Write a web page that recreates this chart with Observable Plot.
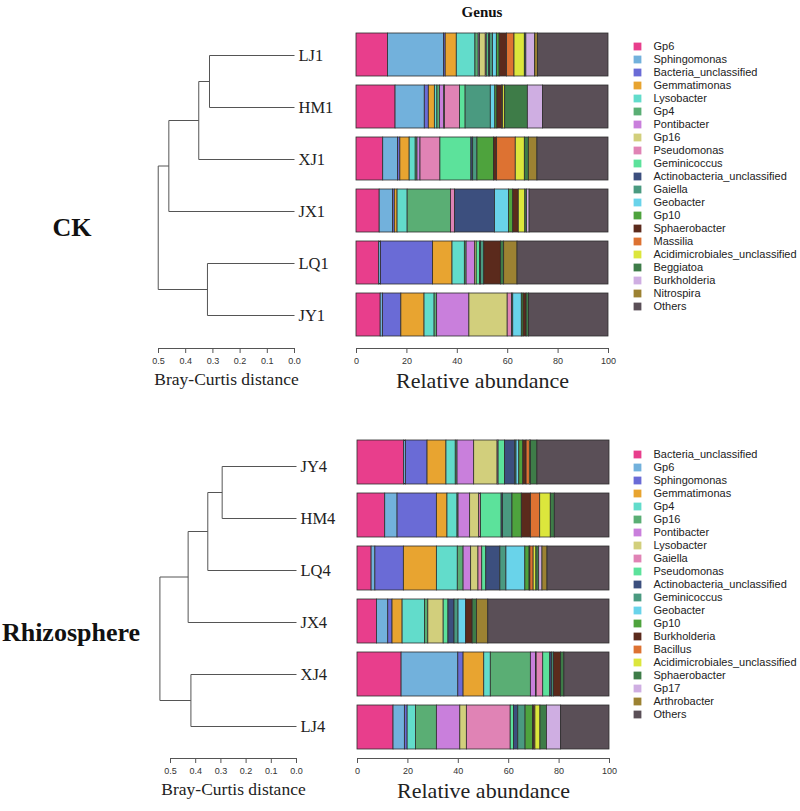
<!DOCTYPE html>
<html><head><meta charset="utf-8">
<script src="https://cdn.jsdelivr.net/npm/d3@7"></script>
<script src="https://cdn.jsdelivr.net/npm/@observablehq/plot@0.6"></script>
<style>
body{margin:0;background:#fff}
#chart{position:relative;width:800px;height:811px;overflow:hidden;background:#fff}
#chart svg{position:absolute;left:0;top:0}
.t{position:absolute;font-family:"Liberation Serif","Times New Roman",serif;font-weight:bold;color:#111;transform:translate(-50%,-50%);white-space:nowrap;line-height:1}
</style></head><body><div id="chart"></div>
<script>
// ---------- data ----------
const palette = ["#E83E8C","#72B1DC","#6A6BD6","#E8A430","#62DCCB","#5AAE74","#C97FDC","#D2CF7C","#E083B5","#5CE29B","#3C4F7E","#4A9A80","#69D3EA","#4EA33D","#5B2A1C","#DD7232","#DCE63C","#3E7C48","#CFAEE2","#9C8232","#5A4F57"];

const taxaCK = ["Gp6","Sphingomonas","Bacteria_unclassified","Gemmatimonas","Lysobacter","Gp4","Pontibacter","Gp16","Pseudomonas","Geminicoccus","Actinobacteria_unclassified","Gaiella","Geobacter","Gp10","Sphaerobacter","Massilia","Acidimicrobiales_unclassified","Beggiatoa","Burkholderia","Nitrospira","Others"];
const samplesCK = ["LJ1","HM1","XJ1","JX1","LQ1","JY1"];
const LJ1 = [12.5,22.2,0.7,4.4,7.4,1.3,0.5,2.3,0.4,0.8,0.5,1.2,1.5,1.1,2.9,3.0,4.1,0.6,3.5,1.1,28.0];
const HM1 = [15.5,11.6,1.6,2.4,1.0,1.0,1.7,0.3,6.0,2.2,0,10.0,1.8,0.8,1.8,0.5,0.8,9.0,6.0,0,26.0];
const XJ1 = [10.6,5.9,0.9,3.7,2.4,0.7,1.2,0,7.9,12.3,0.7,1.7,0,6.6,1.2,7.4,3.6,1.6,0,3.4,28.2];
const JX1 = [9.2,5.3,0.7,1.1,4.0,17.2,0,0,1.6,0,15.9,0,5.5,1.7,2.2,0,2.6,0.7,1.0,0,31.3];
const LQ1 = [9.0,0.7,20.7,7.7,4.9,0.7,3.3,0.7,0,1.3,0.4,1.3,0,0,6.6,0,0,1.3,0,5.3,36.1];
const JY1 = [9.6,0.9,7.3,9.2,4.0,1.0,12.8,15.2,1.7,0,0,0.5,3.4,0.7,1.2,0,0,1.0,0,0,31.5];

const taxaRh = ["Bacteria_unclassified","Gp6","Sphingomonas","Gemmatimonas","Gp4","Gp16","Pontibacter","Lysobacter","Gaiella","Pseudomonas","Actinobacteria_unclassified","Geminicoccus","Geobacter","Gp10","Burkholderia","Bacillus","Acidimicrobiales_unclassified","Sphaerobacter","Gp17","Arthrobacter","Others"];
const samplesRh = ["JY4","HM4","LQ4","JX4","XJ4","LJ4"];
const JY4 = [18.5,0.7,8.6,7.5,3.7,0.7,6.6,9.3,0.4,2.5,4.1,0.5,1.1,1.6,1.3,1.3,0.4,2.6,0,0,28.6];
const HM4 = [11.0,4.9,15.6,4.2,4.0,0.4,4.6,3.6,0.7,8.2,0.5,3.8,0,3.7,3.6,3.7,4.2,1.6,0,0,21.7];
const LQ4 = [5.6,1.5,11.3,13.1,8.3,2.3,3.0,2.9,1.5,1.6,5.6,2.4,7.5,1.7,0.3,1.3,1.1,1.1,1.3,2.0,24.6];
const JX4 = [7.7,4.5,1.7,4.0,8.9,1.3,0,6.1,0,1.9,2.4,1.6,3.0,0,2.6,0,0,1.7,0,4.5,48.1];
const XJ4 = [17.5,22.5,2.1,8.2,2.6,15.9,2.0,0.3,2.6,2.8,0.7,0.7,0,0,2.9,0,0,1.3,0,0,17.9];
const LJ4 = [14.3,4.5,1.1,0,3.3,8.3,9.3,2.6,17.4,1.3,1.7,2.9,0,3.0,0.5,0.4,2.0,2.6,5.6,0,19.2];

// dendrograms (merge steps: left node, right node, Bray-Curtis height; "mK" = K-th merge)
const ckMergeA = ["LJ1","m1","m2","LQ1","m3"];
const ckMergeB = ["HM1","XJ1","JX1","JY1","m4"];
const ckMergeH = [0.3125,0.352,0.462,0.32,0.501];
const rhMergeA = ["JY4","m1","m2","XJ4","m3"];
const rhMergeB = ["HM4","LQ4","JX4","LJ4","m4"];
const rhMergeH = [0.295,0.352,0.430,0.419,0.542];

const distTicks = [0.5,0.4,0.3,0.2,0.1,0.0];
const abundTicks = [0,20,40,60,80,100];

// ---------- helpers ----------
const W = 800, H = 811;
const SERIF = "Liberation Serif, Times New Roman, serif";
const SANS = "Liberation Sans, Arial, Helvetica, sans-serif";
const baseStyle = {background:"transparent", overflow:"visible"};
const chart = document.getElementById("chart");

function barPlot(samples, taxa, rows, yRange, xRange) {
  const data = [];
  samples.forEach((s,i) => rows[i].forEach((v,j) => { if (v > 0) data.push({sample:s, taxon:taxa[j], value:v}); }));
  return Plot.plot({
    width:W, height:H, margin:0, style:baseStyle,
    x:{domain:[abundTicks[0], abundTicks[abundTicks.length-1]], range:xRange, axis:null},
    y:{type:"band", domain:samples, range:yRange, paddingInner:0.167, paddingOuter:0.0835, axis:null},
    color:{domain:taxa, range:palette},
    marks:[
      Plot.barX(data, Plot.stackX({x:"value", y:"sample", fill:"taxon", z:"taxon", order:taxa, stroke:"#2e2e2e", strokeWidth:0.8}))
    ]
  });
}

function axisPlot(ticks, xRange, lineY, fmt, title, titleSize, titleDy) {
  const d0 = ticks[0], d1 = ticks[ticks.length-1];
  return Plot.plot({
    width:W, height:H, marginTop:0, marginLeft:0, marginRight:0, marginBottom:H-lineY, style:baseStyle,
    x:{domain:[d0,d1], range:xRange},
    y:{domain:[0,1], range:[lineY, lineY-10], axis:null},
    marks:[
      Plot.ruleY([{y:0, a:d0, b:d1}], {y:"y", x1:"a", x2:"b", stroke:"#555", strokeWidth:1}),
      Plot.axisX({anchor:"bottom", ticks:ticks, tickFormat:fmt, tickSize:5, tickPadding:4, fontSize:9, fontFamily:SANS, stroke:"#555", fill:"#333", label:null}),
      Plot.text([{t:title, x:(d0+d1)/2}], {x:"x", text:"t", frameAnchor:"bottom", dy:titleDy, lineAnchor:"middle", fontSize:titleSize, fontFamily:SERIF, fill:"#222"})
    ]
  });
}

function dendroPlot(leaves, mA, mB, mH, xRange, yRange) {
  const pos = new Map();
  leaves.forEach((l,i) => pos.set(l, {h:0, i}));
  const segs = [];
  mH.forEach((h,k) => {
    const a = pos.get(mA[k]), b = pos.get(mB[k]);
    segs.push({x1:a.h, x2:h, y1:a.i, y2:a.i});
    segs.push({x1:b.h, x2:h, y1:b.i, y2:b.i});
    segs.push({x1:h, x2:h, y1:a.i, y2:b.i});
    pos.set("m"+(k+1), {h, i:(a.i+b.i)/2});
  });
  const labels = leaves.map((l,i) => ({l, i, x:0}));
  return Plot.plot({
    width:W, height:H, margin:0, style:baseStyle,
    x:{domain:[distTicks[0], distTicks[distTicks.length-1]], range:xRange, axis:null},
    y:{domain:[0, leaves.length-1], range:yRange, axis:null},
    marks:[
      Plot.link(segs, {x1:"x1", y1:"y1", x2:"x2", y2:"y2", stroke:"#555", strokeWidth:1}),
      Plot.text(labels, {x:"x", y:"i", text:"l", dx:4, textAnchor:"start", fontSize:16.5, fontFamily:SERIF, fill:"#222"})
    ]
  });
}

function legendPlot(taxa, yRange) {
  return Plot.plot({
    width:W, height:H, margin:0, marginLeft:637, style:baseStyle,
    y:{type:"point", domain:taxa, range:yRange, padding:0, axis:null},
    color:{domain:taxa, range:palette},
    marks:[
      Plot.dot(taxa, {y:d=>d, fill:d=>d, symbol:"square", r:4.4, frameAnchor:"left"}),
      Plot.text(taxa, {y:d=>d, text:d=>d, frameAnchor:"left", dx:16, textAnchor:"start", fontSize:11, fontFamily:SANS, fill:"#222"})
    ]
  });
}

function addText(txt, x, y, size) {
  const d = document.createElement("div");
  d.className = "t"; d.textContent = txt;
  d.style.left = x+"px"; d.style.top = y+"px"; d.style.fontSize = size+"px";
  chart.appendChild(d);
}

// ---------- build ----------
chart.appendChild(barPlot(samplesCK, taxaCK, [LJ1,HM1,XJ1,JX1,LQ1,JY1], [25.8,343], [356,608]));
chart.appendChild(barPlot(samplesRh, taxaRh, [JY4,HM4,LQ4,JX4,XJ4,LJ4], [435.7,754], [357,609]));
chart.appendChild(axisPlot(abundTicks, [356,608], 348, d3.format("d"), "Relative abundance", 22, 32));
chart.appendChild(axisPlot(abundTicks, [357,609], 758, d3.format("d"), "Relative abundance", 22, 32));
chart.appendChild(axisPlot(distTicks, [158,294], 348, d3.format(".1f"), "Bray-Curtis distance", 17.5, 31));
chart.appendChild(axisPlot(distTicks, [170,296], 758, d3.format(".1f"), "Bray-Curtis distance", 17.5, 31));
chart.appendChild(dendroPlot(samplesCK, ckMergeA, ckMergeB, ckMergeH, [158,294], [55,315]));
chart.appendChild(dendroPlot(samplesRh, rhMergeA, rhMergeB, rhMergeH, [170,296], [466,726]));
chart.appendChild(legendPlot(taxaCK, [41,310]));
chart.appendChild(legendPlot(taxaRh, [446,722]));
addText("Genus", 482, 12, 15);
addText("CK", 72, 228, 26);
addText("Rhizosphere", 71, 633, 26);
</script></body></html>
